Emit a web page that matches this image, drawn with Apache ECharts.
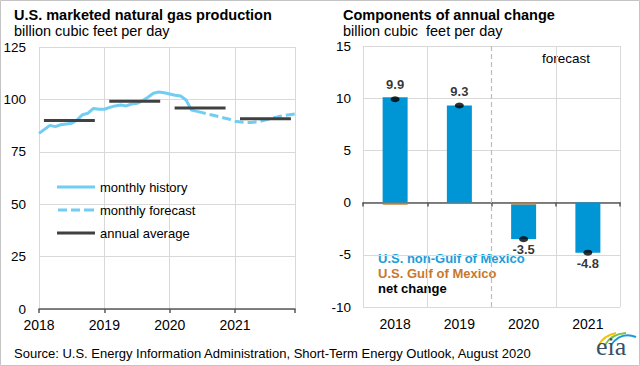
<!DOCTYPE html>
<html>
<head>
<meta charset="utf-8">
<script src="https://cdn.jsdelivr.net/npm/echarts@6/dist/echarts.min.js"></script>
<style>
html,body{margin:0;padding:0;background:#fff}
#c{width:640px;height:366px}
</style>
</head>
<body>
<div id="c"></div>
<script>
// ---------- data ----------
const years = ['2018', '2019', '2020', '2021'];
const firstForecastYear = '2020';
// monthly marketed gas production, Jan 2018 - Jun 2020 (history)
const monthlyHistory = [83.8, 85.7, 87.6, 87.0, 87.9, 88.3, 88.6, 90.2, 92.7, 93.4, 95.7, 95.3,
                        95.3, 96.2, 96.9, 97.3, 96.9, 97.8, 98.1, 99.4, 101.0, 102.9, 103.5, 103.2,
                        102.6, 102.0, 101.6, 99.7, 94.9, 94.3];
// monthly forecast, Jun 2020 - Dec 2021
const monthlyForecast = [94.3, 93.7, 93.0, 92.4, 91.8, 91.1, 90.5,
                         89.6, 89.2, 89.0, 89.0, 89.2, 89.8, 90.5, 91.1, 91.8, 92.3, 92.7, 93.0];
const annualAverage = [89.9, 99.1, 95.9, 90.8];
const leftTicks = [0, 25, 50, 75, 100, 125];
const rightTicks = [-10, -5, 0, 5, 10, 15];
const nonGulfChange = [10.1, 9.3, -3.3, -4.8];
const gulfChange = [-0.2, 0.0, -0.2, 0.0];
const netChange = [9.9, 9.3, -3.5, -4.8];

// ---------- style ----------
const FONT = '"Liberation Sans", Arial, sans-serif';
const LIGHTBLUE = '#72cdf4';
const DARK = '#404040';
const BLUE = '#0096d6';
const ORANGE = '#c8782c';
const GRID = '#d9d9d9';
const AXIS = '#595959';

const monthsPerYear = 12;
const totalMonths = years.length * monthsPerYear - 1;
const histData = monthlyHistory.map((v, i) => [i, v]);
const fcData = monthlyForecast.map((v, j) => [monthlyHistory.length - 1 + j, v]);
const avgData = [];
annualAverage.forEach((v, k) => {
  avgData.push([k * monthsPerYear + 0.9, v]);
  avgData.push([k * monthsPerYear + 10.25, v]);
  avgData.push([k * monthsPerYear + 11, '-']);
});
const boundary = years.indexOf(firstForecastYear);
const splitColors = years.concat(['end']).map((y, i) => i === boundary ? 'rgba(0,0,0,0)' : GRID);

const chart = echarts.init(document.getElementById('c'), null, {renderer: 'svg'});
const option = {
  animation: false,
  textStyle: {fontFamily: FONT, color: '#000'},
  title: [
    {text: 'U.S. marketed natural gas production', subtext: 'billion cubic feet per day',
     left: 14, top: 7, padding: 0, itemGap: 0,
     textStyle: {fontFamily: FONT, fontSize: 14.5, fontWeight: 'bold', color: '#000', lineHeight: 16},
     subtextStyle: {fontFamily: FONT, fontSize: 14.5, color: '#000', lineHeight: 16}},
    {text: 'Components of annual change', subtext: 'billion cubic  feet per day',
     left: 343, top: 7, padding: 0, itemGap: 0,
     textStyle: {fontFamily: FONT, fontSize: 14.5, fontWeight: 'bold', color: '#000', lineHeight: 16},
     subtextStyle: {fontFamily: FONT, fontSize: 14.5, color: '#000', lineHeight: 16}}
  ],
  legend: {
    orient: 'vertical', left: 57, top: 180, padding: 0,
    itemWidth: 38, itemHeight: 3, itemGap: 9, selectedMode: false,
    textStyle: {fontFamily: FONT, fontSize: 13, color: '#000', lineHeight: 14},
    data: [
      {name: 'monthly history', icon: 'path://M0,0H38V3H0Z'},
      {name: 'monthly forecast', icon: 'path://M0,0H9V3H0Z M13,0H22V3H13Z M26,0H36V3H26Z'},
      {name: 'annual average', icon: 'path://M0,0H38V3H0Z'}
    ]
  },
  grid: [
    {left: 39, top: 47, width: 256, height: 262},
    {left: 363, top: 46, width: 257, height: 261}
  ],
  xAxis: [
    {gridIndex: 0, type: 'value', min: 0, max: totalMonths, interval: monthsPerYear,
     axisLine: {show: true, onZero: false, lineStyle: {color: AXIS, width: 1.5}},
     axisTick: {show: true, length: 4, lineStyle: {color: AXIS, width: 1.5}},
     axisLabel: {fontSize: 14, color: '#000', margin: 9,
                 formatter: v => v % monthsPerYear === 0 ? years[v / monthsPerYear] : ''},
     splitLine: {show: true, lineStyle: {color: GRID, width: 1}}},
    {gridIndex: 1, type: 'category', data: years, position: 'bottom',
     axisLine: {show: false, onZero: false}, axisTick: {show: false},
     axisLabel: {fontSize: 14, color: '#000', margin: 10},
     splitLine: {show: false}},
    {gridIndex: 1, type: 'value', min: 0, max: years.length, interval: 1, position: 'bottom',
     axisLine: {show: true, onZero: true, lineStyle: {color: AXIS, width: 1.5}},
     axisTick: {show: true, length: 4, lineStyle: {color: AXIS, width: 1.5}},
     axisLabel: {show: false},
     splitLine: {show: true, lineStyle: {color: splitColors, width: 1}}}
  ],
  yAxis: [
    {gridIndex: 0, type: 'value', min: leftTicks[0], max: leftTicks[leftTicks.length - 1],
     interval: leftTicks[1] - leftTicks[0],
     axisLine: {show: false, onZero: false}, axisTick: {show: false},
     axisLabel: {fontSize: 13.5, color: '#000', margin: 13},
     splitLine: {show: true, lineStyle: {color: GRID, width: 1}}},
    {gridIndex: 1, type: 'value', min: rightTicks[0], max: rightTicks[rightTicks.length - 1],
     interval: rightTicks[1] - rightTicks[0],
     axisLine: {show: false, onZero: false}, axisTick: {show: false},
     axisLabel: {fontSize: 13.5, color: '#000', margin: 12},
     splitLine: {show: true, lineStyle: {color: GRID, width: 1}}}
  ],
  series: [
    {name: 'monthly history', type: 'line', xAxisIndex: 0, yAxisIndex: 0, data: histData,
     symbol: 'none', lineStyle: {color: LIGHTBLUE, width: 3}, itemStyle: {color: LIGHTBLUE}, z: 3},
    {name: 'monthly forecast', type: 'line', xAxisIndex: 0, yAxisIndex: 0, data: fcData,
     symbol: 'none', lineStyle: {color: LIGHTBLUE, width: 3, type: [9, 4]}, itemStyle: {color: LIGHTBLUE}, z: 3},
    {name: 'annual average', type: 'line', xAxisIndex: 0, yAxisIndex: 0, data: avgData,
     symbol: 'none', connectNulls: false, lineStyle: {color: DARK, width: 3}, itemStyle: {color: DARK}, z: 4},
    {name: 'U.S. Gulf of Mexico', type: 'bar', xAxisIndex: 1, yAxisIndex: 1, stack: 'chg',
     data: gulfChange, barWidth: 25, itemStyle: {color: ORANGE}},
    {name: 'U.S. non-Gulf of Mexico', type: 'bar', xAxisIndex: 1, yAxisIndex: 1, stack: 'chg',
     data: nonGulfChange, barWidth: 25, itemStyle: {color: BLUE}},
    {name: 'net change', type: 'scatter', xAxisIndex: 1, yAxisIndex: 1,
     data: netChange.map(v => ({value: v, label: {position: v >= 0 ? 'top' : 'bottom', distance: v >= 0 ? 5 : 1}})),
     symbol: 'circle', symbolSize: [9, 6], itemStyle: {color: '#000'}, z: 6,
     label: {show: true, fontFamily: FONT, fontSize: 13, fontWeight: 'bold', color: '#000',
             formatter: p => Number(p.value).toFixed(1)}},
    {name: 'forecast divider', type: 'line', xAxisIndex: 2, yAxisIndex: 1, data: [],
     markLine: {silent: true, symbol: 'none', label: {show: false},
                lineStyle: {color: '#bdbdbd', type: [5, 3], width: 1.2},
                data: [{xAxis: boundary}]}}
  ],
  graphic: [
    {type: 'rect', shape: {x: 0.5, y: 0.5, width: 639, height: 365}, style: {fill: 'none', stroke: '#c4c4c4', lineWidth: 1}, silent: true},
    {type: 'text', x: 542, y: 58, style: {text: 'forecast', font: '13.5px ' + FONT, fill: '#000', align: 'left', verticalAlign: 'middle'}},
    {type: 'text', x: 378, y: 258, style: {text: 'U.S. non-Gulf of Mexico', font: 'bold 13px ' + FONT, fill: '#1b9dd9', align: 'left', verticalAlign: 'middle'}},
    {type: 'text', x: 378, y: 273, style: {text: 'U.S. Gulf of Mexico', font: 'bold 13px ' + FONT, fill: ORANGE, align: 'left', verticalAlign: 'middle'}},
    {type: 'text', x: 378, y: 288, style: {text: 'net change', font: 'bold 13px ' + FONT, fill: '#000', align: 'left', verticalAlign: 'middle'}},
    {type: 'text', x: 14, y: 353, style: {text: 'Source: U.S. Energy Information Administration, Short-Term Energy Outlook, August 2020', font: '13px ' + FONT, fill: '#000', align: 'left', verticalAlign: 'middle'}},
    {type: 'bezierCurve', shape: {x1: 599, y1: 345, x2: 616, y2: 333, cpx1: 603, cpy1: 336}, style: {stroke: '#f2c300', lineWidth: 2, fill: 'none'}},
    {type: 'bezierCurve', shape: {x1: 605, y1: 345, x2: 626, y2: 333, cpx1: 611, cpy1: 334}, style: {stroke: '#7dc242', lineWidth: 2, fill: 'none'}},
    {type: 'bezierCurve', shape: {x1: 611, y1: 345, x2: 636, y2: 337, cpx1: 621, cpy1: 331}, style: {stroke: '#1a9ad6', lineWidth: 2, fill: 'none'}},
    {type: 'text', x: 596, y: 359, style: {text: 'eia', font: '26px "Liberation Serif", "DejaVu Serif", serif', fill: '#3b4f63', align: 'left', verticalAlign: 'bottom'}}
  ]
};
chart.setOption(option);
</script>
</body>
</html>
